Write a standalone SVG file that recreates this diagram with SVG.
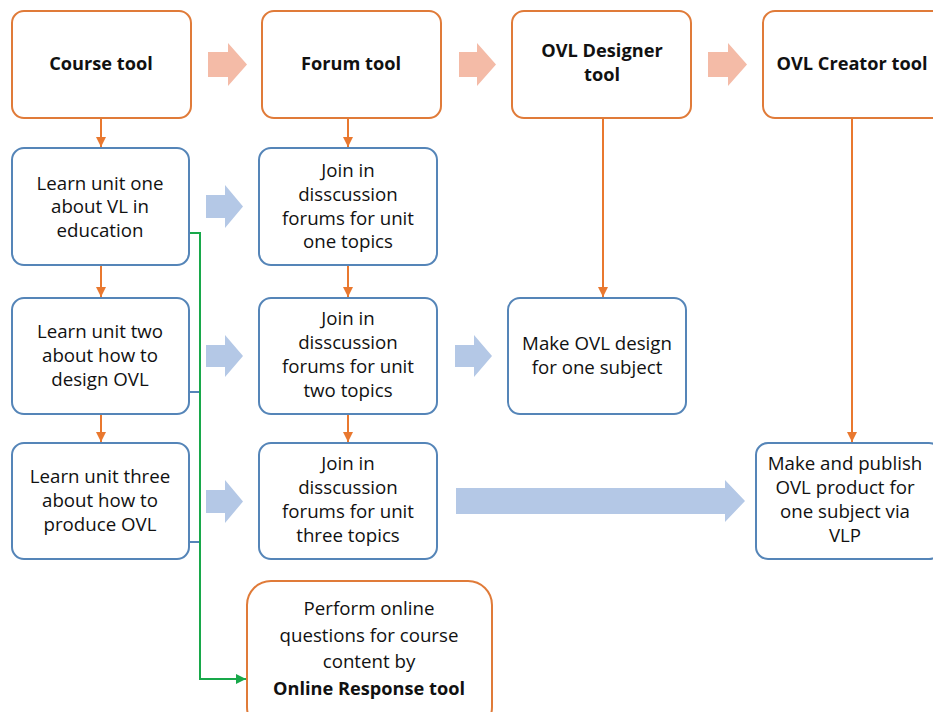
<svg xmlns="http://www.w3.org/2000/svg" width="933" height="712" viewBox="0 0 933 712">
<defs>
<style>
.o{fill:#fff;stroke:#E07B39;stroke-width:2}
.b{fill:#fff;stroke:#5585B8;stroke-width:2}
text{font-family:"Open Sans","Liberation Sans",Arial,sans-serif;font-size:18.7px;fill:#111;text-anchor:middle}
.t{font-weight:bold;font-size:18.2px}
.pk{fill:#F4BBA7}
.lb{fill:#B4C8E6}
.ol{stroke:#E9782F;stroke-width:2;fill:none}
</style>
<marker id="oa" viewBox="0 0 10 10" refX="10" refY="5" markerWidth="5" markerHeight="5" orient="auto" markerUnits="strokeWidth"><path d="M0,0L10,5L0,10z" fill="#E9782F"/></marker>
<marker id="ga" viewBox="0 0 10 10" refX="10" refY="5" markerWidth="5" markerHeight="5" orient="auto" markerUnits="strokeWidth"><path d="M0,0L10,5L0,10z" fill="#18A84A"/></marker>
</defs>
<rect width="933" height="712" fill="#fff"/>
<g id="connectors">
<path class="pk" d="M208,52H228V43L247,64.5L228,86V77H208z"/>
<path class="pk" d="M459,52H477V43L496,64.5L477,86V77H459z"/>
<path class="pk" d="M708,52H728V43L747,64.5L728,86V77H708z"/>
<path class="lb" d="M206,195H225V185L243,206.5L225,228V218H206z"/>
<path class="lb" d="M206,345H225V335L243,356L225,377V367H206z"/>
<path class="lb" d="M455,345H474V335L492,356L474,377V367H455z"/>
<path class="lb" d="M206,490H225V480L243,501.5L225,523V513H206z"/>
<path class="lb" d="M456,488H725V480L745,501L725,522V514H456z"/>
<line class="ol" x1="101" y1="119" x2="101" y2="147" marker-end="url(#oa)"/>
<line class="ol" x1="348" y1="119" x2="348" y2="147" marker-end="url(#oa)"/>
<line class="ol" x1="101" y1="266" x2="101" y2="297" marker-end="url(#oa)"/>
<line class="ol" x1="348" y1="266" x2="348" y2="297" marker-end="url(#oa)"/>
<line class="ol" x1="101" y1="415" x2="101" y2="442" marker-end="url(#oa)"/>
<line class="ol" x1="348" y1="415" x2="348" y2="442" marker-end="url(#oa)"/>
<line class="ol" x1="603" y1="119" x2="603" y2="297" marker-end="url(#oa)"/>
<line class="ol" x1="852" y1="119" x2="852" y2="442" marker-end="url(#oa)"/>
<path d="M189,392H200M189,542H200" stroke="#5585B8" stroke-width="2" fill="none"/>
<path d="M189,233H200V679H246" stroke="#18A84A" stroke-width="2" fill="none" marker-end="url(#ga)"/>
</g>
<g id="course-tool"><rect class="o" x="12" y="11" width="179" height="107" rx="12"/><text class="t" x="101" y="70">Course tool</text></g>
<g id="forum-tool"><rect class="o" x="262" y="11" width="179" height="107" rx="12"/><text class="t" x="351" y="70">Forum tool</text></g>
<g id="ovl-designer-tool"><rect class="o" x="512" y="11" width="179" height="107" rx="12"/><text class="t" x="602" y="57">OVL Designer</text><text class="t" x="602" y="81">tool</text></g>
<g id="ovl-creator-tool"><rect class="o" x="763" y="11" width="185" height="107" rx="12"/><text class="t" x="852" y="70">OVL Creator tool</text></g>
<g id="unit-one"><rect class="b" x="12" y="148" width="177" height="117" rx="12"/><text x="100" y="190">Learn unit one</text><text x="100" y="213">about VL in</text><text x="100" y="237">education</text></g>
<g id="forum-one"><rect class="b" x="259" y="148" width="178" height="117" rx="12"/><text x="348" y="177">Join in</text><text x="348" y="201">disscussion</text><text x="348" y="225">forums for unit</text><text x="348" y="248">one topics</text></g>
<g id="unit-two"><rect class="b" x="12" y="298" width="177" height="116" rx="12"/><text x="100" y="338">Learn unit two</text><text x="100" y="362">about how to</text><text x="100" y="386">design OVL</text></g>
<g id="forum-two"><rect class="b" x="259" y="298" width="178" height="116" rx="12"/><text x="348" y="325">Join in</text><text x="348" y="349">disscussion</text><text x="348" y="373">forums for unit</text><text x="348" y="397">two topics</text></g>
<g id="ovl-design"><rect class="b" x="508" y="298" width="178" height="116" rx="12"/><text x="597" y="350">Make OVL design</text><text x="597" y="374">for one subject</text></g>
<g id="unit-three"><rect class="b" x="12" y="443" width="177" height="116" rx="12"/><text x="100" y="483">Learn unit three</text><text x="100" y="507">about how to</text><text x="100" y="531">produce OVL</text></g>
<g id="forum-three"><rect class="b" x="259" y="443" width="178" height="116" rx="12"/><text x="348" y="470">Join in</text><text x="348" y="494">disscussion</text><text x="348" y="518">forums for unit</text><text x="348" y="542">three topics</text></g>
<g id="publish"><rect class="b" x="756" y="443" width="185" height="116" rx="12"/><text x="845" y="470">Make and publish</text><text x="845" y="494">OVL product for</text><text x="845" y="518">one subject via</text><text x="845" y="542">VLP</text></g>
<g id="online-response"><rect class="o" x="247" y="581" width="245" height="150" rx="24"/><text x="369" y="615">Perform online</text><text x="369" y="642">questions for course</text><text x="369" y="668">content by</text><text class="t" x="369" y="695">Online Response tool</text></g>
</svg>
